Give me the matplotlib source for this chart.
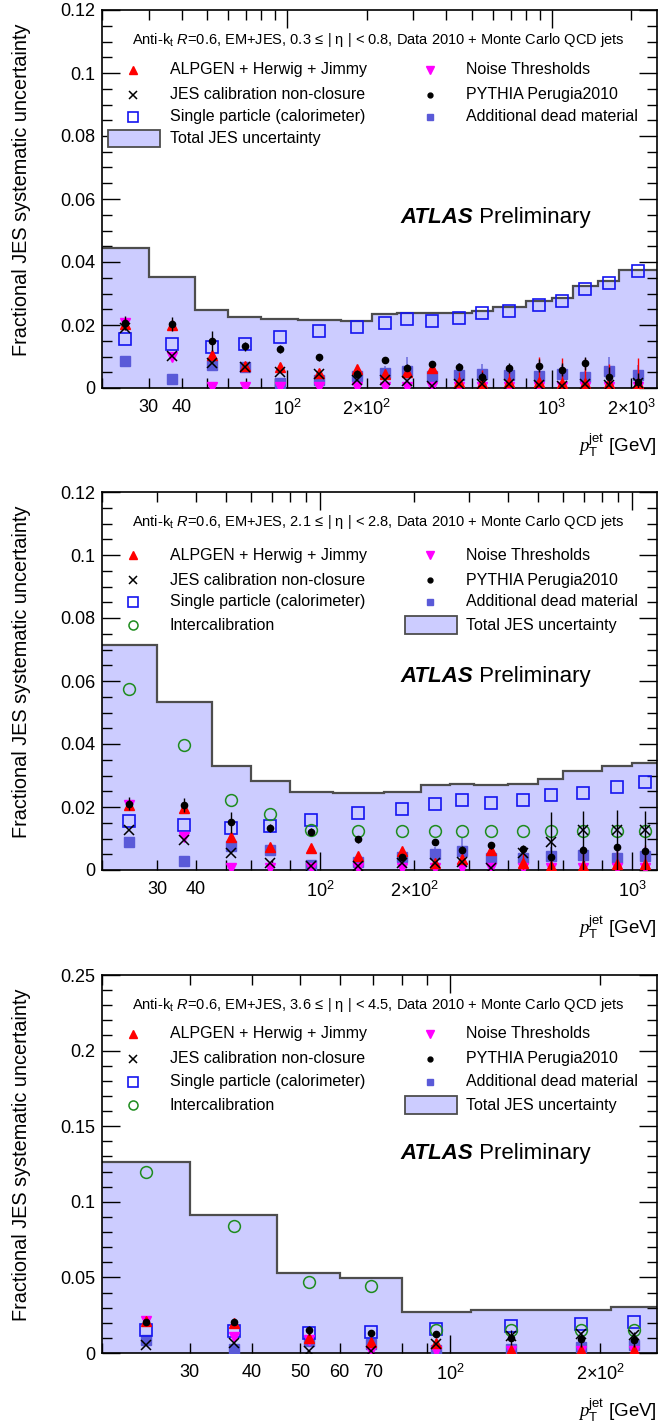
import numpy as np
import matplotlib
matplotlib.use("Agg")
import matplotlib.pyplot as plt
from matplotlib.ticker import FixedLocator, FixedFormatter, AutoMinorLocator
from matplotlib.patches import Rectangle

plt.rcParams['font.family'] = ['Liberation Sans', 'DejaVu Sans']
plt.rcParams['mathtext.fontset'] = 'custom'
plt.rcParams['mathtext.rm'] = 'Liberation Sans'
plt.rcParams['mathtext.it'] = 'Liberation Sans:italic'
plt.rcParams['mathtext.bf'] = 'Liberation Sans:bold'
plt.rcParams['mathtext.cal'] = 'Liberation Serif:italic'

# ---------------- data ----------------
edges1 = [20, 30, 45, 60, 80, 110, 160, 210, 260, 310, 400, 500, 600, 800, 1000, 1200, 1500, 1800, 2500]
total1 = [0.0444, 0.0353, 0.0249, 0.0224, 0.0219, 0.0217, 0.0214, 0.0236, 0.0239, 0.0237, 0.0237, 0.0245,
          0.0257, 0.0276, 0.0287, 0.0325, 0.0340, 0.0376]
single1 = [0.0155, 0.0141, 0.0129, 0.0140, 0.0161, 0.0180, 0.0194, 0.0206, 0.0218, 0.0213, 0.0222, 0.0237,
           0.0245, 0.0262, 0.0277, 0.0314, 0.0334, 0.0371]
pythia1 = [0.0207, 0.0204, 0.0148, 0.0132, 0.0123, 0.0097, 0.0045, 0.0088, 0.0065, 0.0077, 0.0068, 0.0035,
           0.0063, 0.0071, 0.0058, 0.0078, 0.0036, 0.0018]
pythia1_err = [0.0022, 0.0022, 0.0032, 0.0013, 0.0012, 0.0012, 0.0012, 0.0010, 0.0010, 0.0010, 0.0010, 0.0015,
               0.0015, 0.0020, 0.0020, 0.0020, 0.0030, 0.0030]
alpgen1 = [0.0203, 0.0200, 0.0104, 0.0071, 0.0068, 0.0047, 0.0060, 0.0045, 0.0050, 0.0063, 0.0020, 0.0016,
           0.0020, 0.0020, 0.0015, 0.0015, 0.0015, 0.0015]
alpgen1_err = [0.0010, 0.0010, 0.0010, 0.0010, 0.0010, 0.0010, 0.0010, 0.0010, 0.0015, 0.0015, 0.0030, 0.0040,
               0.0050, 0.0080, 0.0080, 0.0080, 0.0060, 0.0080]
jes1 = [0.0190, 0.0103, 0.0079, 0.0068, 0.0050, 0.0045, 0.0026, 0.0026, 0.0021, 0.0005, 0.0014, 0.0014,
        0.0014, 0.0010, 0.0005, 0.0014, 0.0010, 0.0016]
noise1 = [0.0205, 0.0100, 0.0003, 0.0003, 0.0003, 0.0003, 0.0003, 0.0003, 0.0003, 0.0003, 0.0003, 0.0003,
          0.0003, 0.0003, 0.0003, 0.0003, 0.0003, 0.0003]
dead1 = [0.0086, 0.0027, 0.0074, 0.0066, 0.0016, 0.0024, 0.0037, 0.0049, 0.0053, 0.0039, 0.0040, 0.0045,
         0.0040, 0.0037, 0.0044, 0.0034, 0.0053, 0.0042]
dead1_err = [0.0005, 0.0005, 0.0008, 0.0008, 0.0005, 0.0008, 0.0010, 0.0020, 0.0045, 0.0020, 0.0040, 0.0030,
             0.0020, 0.0020, 0.0030, 0.0020, 0.0045, 0.0030]

edges2 = [20, 30, 45, 60, 80, 110, 160, 210, 260, 310, 400, 500, 600, 800, 1000, 1200]
total2 = [0.0715, 0.0533, 0.0330, 0.0281, 0.0249, 0.0246, 0.0247, 0.0269, 0.0272, 0.0270, 0.0273, 0.0289,
          0.0313, 0.0329, 0.0340]
intercal2 = [0.0574, 0.0398, 0.0222, 0.0178, 0.0126, 0.0125, 0.0125, 0.0125, 0.0125, 0.0125, 0.0125, 0.0125,
             0.0125, 0.0125, 0.0125]
single2 = [0.0156, 0.0142, 0.0133, 0.0140, 0.0160, 0.0182, 0.0194, 0.0208, 0.0221, 0.0213, 0.0223, 0.0239,
           0.0245, 0.0265, 0.0280]
pythia2 = [0.0211, 0.0206, 0.0151, 0.0133, 0.0122, 0.0097, 0.0040, 0.0089, 0.0065, 0.0078, 0.0068, 0.0040,
           0.0063, 0.0072, 0.0060]
pythia2_err = [0.0022, 0.0022, 0.0032, 0.0013, 0.0012, 0.0012, 0.0012, 0.0010, 0.0010, 0.0010, 0.0010, 0.0145,
               0.0125, 0.0120, 0.0128]
alpgen2 = [0.0205, 0.0197, 0.0104, 0.0073, 0.0069, 0.0043, 0.0059, 0.0023, 0.0036, 0.0063, 0.0023, 0.0013,
           0.0013, 0.0018, 0.0018]
alpgen2_err = [0.0010, 0.0010, 0.0010, 0.0010, 0.0010, 0.0010, 0.0010, 0.0010, 0.0015, 0.0015, 0.0030, 0.0030,
               0.0050, 0.0060, 0.0060]
jes2 = [0.0126, 0.0094, 0.0053, 0.0023, 0.0013, 0.0013, 0.0023, 0.0023, 0.0026, 0.0007, 0.0053, 0.0089,
        0.0126, 0.0126, 0.0126]
noise2 = [0.0205, 0.0104, 0.0005, 0.0005, 0.0005, 0.0005, 0.0005, 0.0005, 0.0005, 0.0005, 0.0005, 0.0005,
          0.0005, 0.0005, 0.0005]
dead2 = [0.0089, 0.0028, 0.0076, 0.0063, 0.0015, 0.0026, 0.0041, 0.0052, 0.0059, 0.0039, 0.0039, 0.0044,
         0.0047, 0.0038, 0.0044]
dead2_err = [0.0005, 0.0005, 0.0008, 0.0008, 0.0005, 0.0008, 0.0010, 0.0020, 0.0045, 0.0020, 0.0030, 0.0030,
             0.0030, 0.0030, 0.0030]

edges3 = [20, 30, 45, 60, 80, 110, 160, 210, 260]
total3 = [0.126, 0.091, 0.0529, 0.0493, 0.0268, 0.0287, 0.0287, 0.0307]
intercal3 = [0.120, 0.084, 0.0471, 0.0441, 0.0154, 0.0150, 0.0150, 0.0150]
single3 = [0.0154, 0.0143, 0.0132, 0.0140, 0.0160, 0.0180, 0.0190, 0.0208]
pythia3 = [0.0208, 0.0206, 0.0149, 0.0132, 0.0127, 0.0101, 0.0090, 0.0088]
pythia3_err = [0.0015, 0.0015, 0.0030, 0.0012, 0.0012, 0.0050, 0.0050, 0.0050]
alpgen3 = [0.0210, 0.0200, 0.0100, 0.0070, 0.0065, 0.0020, 0.0020, 0.0020]
alpgen3_err = [0.0010, 0.0010, 0.0010, 0.0010, 0.0010, 0.0020, 0.0020, 0.0020]
jes3 = [0.0050, 0.0066, 0.0013, 0.0010, 0.0060, 0.0110, 0.0127, 0.0116]
noise3 = [0.0210, 0.0105, 0.0085, 0.0010, 0.0010, 0.0010, 0.0010, 0.0010]
dead3 = [0.0088, 0.0028, 0.0077, 0.0061, 0.0022, 0.0026, 0.0040, 0.0050]
dead3_err = [0.0005, 0.0005, 0.0008, 0.0008, 0.0005, 0.0008, 0.0010, 0.0010]

headers = [
    r"Anti-k$_{\rm t}$ $R$=0.6, EM+JES, 0.3$\,\leq\,$| η | < 0.8, Data 2010 + Monte Carlo QCD jets",
    r"Anti-k$_{\rm t}$ $R$=0.6, EM+JES, 2.1$\,\leq\,$| η | < 2.8, Data 2010 + Monte Carlo QCD jets",
    r"Anti-k$_{\rm t}$ $R$=0.6, EM+JES, 3.6$\,\leq\,$| η | < 4.5, Data 2010 + Monte Carlo QCD jets",
]

labels = {
    'alpgen': "ALPGEN + Herwig + Jimmy",
    'jes': "JES calibration non-closure",
    'single': "Single particle (calorimeter)",
    'intercal': "Intercalibration",
    'noise': "Noise Thresholds",
    'pythia': "PYTHIA Perugia2010",
    'dead': "Additional dead material",
    'total': "Total JES uncertainty",
}

C_FILL = '#ccccff'
C_EDGE = '#4d4d4d'
C_RED = '#ff0000'
C_MAG = '#ff00ff'
C_BLUE = '#1414f0'
C_DEAD = '#5a5ad8'
C_GREEN = '#1e8c1e'

styles = {
    'alpgen': dict(marker='^', color=C_RED, ms=7, mec=C_RED, mfc=C_RED, ls='none'),
    'jes': dict(marker='x', color='black', ms=7, mew=1.1, ls='none'),
    'single': dict(marker='s', color=C_BLUE, ms=8.5, mfc='none', mec=C_BLUE, mew=1.2, ls='none'),
    'intercal': dict(marker='o', color=C_GREEN, ms=8.5, mfc='none', mec=C_GREEN, mew=1.1, ls='none'),
    'noise': dict(marker='v', color=C_MAG, ms=7, mec=C_MAG, mfc=C_MAG, ls='none'),
    'pythia': dict(marker='o', color='black', ms=4.5, ls='none'),
    'dead': dict(marker='s', color=C_DEAD, ms=6.5, mec=C_DEAD, mfc=C_DEAD, ls='none'),
}

W, H = 664, 1423
fig = plt.figure(figsize=(W / 100, H / 100), dpi=100)

left = 102 / W
width = 555 / W
ah = 378 / H
tops = [10, 492, 975]

panels = [
    dict(edges=edges1, total=total1, single=single1, pythia=pythia1, pythia_err=pythia1_err,
         alpgen=alpgen1, alpgen_err=alpgen1_err, jes=jes1, noise=noise1, dead=dead1, dead_err=dead1_err,
         intercal=None, ymax=0.12, ymaj=0.02, nminor=4,
         xlabels={30: "30", 40: "40", 100: r"$10^{2}$", 200: r"$2{\times}10^{2}$", 1000: r"$10^{3}$",
                  2000: r"$2{\times}10^{3}$"}),
    dict(edges=edges2, total=total2, single=single2, pythia=pythia2, pythia_err=pythia2_err,
         alpgen=alpgen2, alpgen_err=alpgen2_err, jes=jes2, noise=noise2, dead=dead2, dead_err=dead2_err,
         intercal=intercal2, ymax=0.12, ymaj=0.02, nminor=4,
         xlabels={30: "30", 40: "40", 100: r"$10^{2}$", 200: r"$2{\times}10^{2}$", 1000: r"$10^{3}$"}),
    dict(edges=edges3, total=total3, single=single3, pythia=pythia3, pythia_err=pythia3_err,
         alpgen=alpgen3, alpgen_err=alpgen3_err, jes=jes3, noise=noise3, dead=dead3, dead_err=dead3_err,
         intercal=intercal3, ymax=0.25, ymaj=0.05, nminor=5,
         xlabels={30: "30", 40: "40", 50: "50", 60: "60", 70: "70", 100: r"$10^{2}$",
                  200: r"$2{\times}10^{2}$"}),
]

FS_TICK = 13
FS_LEG = 11.5

for i, p in enumerate(panels):
    top = tops[i]
    ax = fig.add_axes([left, 1 - (top + 378) / H, width, ah])
    edges = np.array(p['edges'], dtype=float)
    xc = np.sqrt(edges[:-1] * edges[1:])

    ax.stairs(p['total'], edges, fill=True, color=C_FILL, zorder=1)
    ax.stairs(p['total'], edges, baseline=None, color=C_EDGE, lw=1.6, zorder=2)

    ax.errorbar(xc, p['dead'], yerr=p['dead_err'], elinewidth=1.3, ecolor='#7a7ae2', capsize=0,
                zorder=3, **styles['dead'])
    ax.plot(xc, p['single'], zorder=4, **styles['single'])
    if p['intercal'] is not None:
        ax.plot(xc, p['intercal'], zorder=4, **styles['intercal'])
    ax.plot(xc, p['noise'], zorder=5, **styles['noise'])
    ax.errorbar(xc, p['alpgen'], yerr=p['alpgen_err'], elinewidth=1.0, ecolor=C_RED, capsize=0,
                zorder=6, **styles['alpgen'])
    ax.plot(xc, p['jes'], zorder=7, **styles['jes'])
    ax.errorbar(xc, p['pythia'], yerr=p['pythia_err'], elinewidth=1.0, ecolor='black', capsize=0,
                zorder=8, **styles['pythia'])

    ax.set_xscale('log')
    ax.set_xlim(edges[0], edges[-1])
    ax.set_ylim(0, p['ymax'])

    xmin, xmax = edges[0], edges[-1]
    majors = [v for v in [10, 100, 1000, 10000] if xmin <= v <= xmax]
    minors = []
    for dec in [10, 100, 1000]:
        for k in range(2, 10):
            v = k * dec
            if xmin <= v <= xmax:
                minors.append(v)
    ax.xaxis.set_major_locator(FixedLocator(majors))
    ax.xaxis.set_minor_locator(FixedLocator(minors))
    ax.xaxis.set_major_formatter(FixedFormatter([p['xlabels'].get(v, "") for v in majors]))
    ax.xaxis.set_minor_formatter(FixedFormatter([p['xlabels'].get(v, "") for v in minors]))

    yt = np.round(np.arange(0, p['ymax'] + 1e-9, p['ymaj']), 4)
    ax.set_yticks(yt)
    ax.set_yticklabels(["0" if v == 0 else ("%g" % v) for v in yt])
    ax.yaxis.set_minor_locator(AutoMinorLocator(p['nminor']))

    ax.tick_params(which='both', direction='in', top=True, right=True, labelsize=FS_TICK, width=1.0)
    ax.tick_params(axis='y', which='major', length=13, pad=5)
    ax.tick_params(axis='y', which='minor', length=7)
    ax.tick_params(axis='x', which='major', length=13, pad=8)
    ax.tick_params(axis='x', which='minor', length=7, pad=8, labelsize=FS_TICK)
    for s in ax.spines.values():
        s.set_linewidth(1.2)

    ax.set_ylabel("Fractional JES systematic uncertainty", fontsize=14.3)
    ax.yaxis.set_label_coords(-0.128, 0.525)
    ax.text(1.0, -0.115, r"$\mathcal{p}_{\rm T}^{\rm jet}$ [GeV]", transform=ax.transAxes,
            ha='right', va='top', fontsize=13.5)

    ax.text(0.054, 0.921, headers[i], transform=ax.transAxes, fontsize=10.5, va='center', ha='left')

    yat = [0.451, 0.513, 0.529][i]
    t = ax.text(0.537, yat, "ATLAS", transform=ax.transAxes, fontsize=16, fontweight='bold',
                style='italic', va='center', ha='left')
    ax.annotate(" Preliminary", xycoords=t, xy=(1, 0.5), va='center', ha='left', fontsize=16)

    rows = [[0.842, 0.776, 0.718, 0.660], [0.833, 0.767, 0.709, 0.648], [0.844, 0.778, 0.717, 0.656]][i]
    xm1, xt1, xm2, xt2 = 0.056, 0.122, 0.591, 0.656
    col1 = ['alpgen', 'jes', 'single'] + (['intercal'] if p['intercal'] is not None else ['total'])
    col2 = ['noise', 'pythia', 'dead'] + (['total'] if p['intercal'] is not None else [])
    for col, xm, xtx in [(col1, xm1, xt1), (col2, xm2, xt2)]:
        for key, yy in zip(col, rows):
            if key == 'total':
                ax.add_patch(Rectangle((xm - 0.045, yy - 0.023), 0.094, 0.046, transform=ax.transAxes,
                                       facecolor=C_FILL, edgecolor=C_EDGE, lw=1.3, zorder=10))
            else:
                st = dict(styles[key])
                if key in ('single', 'intercal'):
                    st['ms'] = 6.5
                if key in ('alpgen', 'noise', 'jes'):
                    st['ms'] = 6
                if key == 'dead':
                    st['ms'] = 5
                if key == 'pythia':
                    st['ms'] = 3.5
                ax.plot([xm], [yy], transform=ax.transAxes, clip_on=False, zorder=10, **st)
            ax.text(xtx, yy, labels[key], transform=ax.transAxes, fontsize=FS_LEG, va='center', ha='left')

fig.savefig("out.png", dpi=100)
